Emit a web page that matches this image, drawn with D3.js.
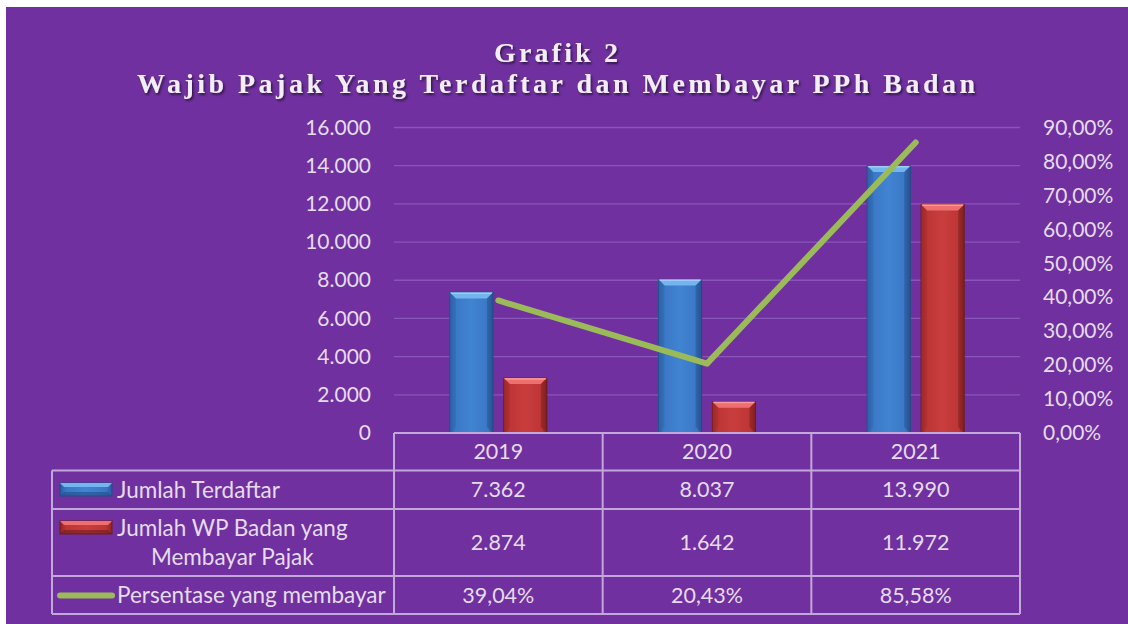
<!DOCTYPE html>
<html>
<head>
<meta charset="utf-8">
<script src="https://cdn.jsdelivr.net/npm/d3@7"></script>
<style>
  body { margin: 0; background: #fff; }
  svg { display: block; }
</style>
</head>
<body>
<svg id="chart"></svg>
<script>
// data
var categories = ["2019", "2020", "2021"];
var terdaftar = [7362, 8037, 13990];
var membayar = [2874, 1642, 11972];
var persentase = [39.04, 20.43, 85.58];
var leftTicks = [0, 2000, 4000, 6000, 8000, 10000, 12000, 14000, 16000];
var rightTicks = [0, 10, 20, 30, 40, 50, 60, 70, 80, 90];
var seriesNames = ["Jumlah Terdaftar", "Jumlah WP Badan yang|Membayar Pajak", "Persentase yang membayar"];
var titleLines = ["Grafik 2", "Wajib Pajak Yang Terdaftar dan Membayar PPh Badan"];

var W = 1128, H = 624;
var plot = { left: 394, right: 1020, top: 127.5, bottom: 433 };
var textColor = "#e4dced";
var gridColor = "#8756b6";
var borderColor = "#c2a7da";
var font = "Lato, 'Open Sans', sans-serif";

var locale = d3.formatLocale({ decimal: ",", thousands: ".", grouping: [3], currency: ["Rp", ""] });
var fmtNum = locale.format(",.0f");
var fmtPct = function (v) { return locale.format(".2f")(v) + "%"; };

var svg = d3.select("#chart").attr("width", W).attr("height", H);

var defs = svg.append("defs");
var shadow = defs.append("filter").attr("id", "shadow").attr("x", "-5%").attr("y", "-30%").attr("width", "110%").attr("height", "160%");
shadow.append("feDropShadow").attr("dx", 1.5).attr("dy", 2).attr("stdDeviation", 1.2)
  .attr("flood-color", "#000").attr("flood-opacity", 0.55);

// bar gradients
function barGradient(id, edge, mid, light) {
  var g = defs.append("linearGradient").attr("id", id).attr("x1", "0").attr("x2", "1").attr("y1", "0").attr("y2", "0");
  g.append("stop").attr("offset", "0%").attr("stop-color", edge);
  g.append("stop").attr("offset", "12%").attr("stop-color", mid);
  g.append("stop").attr("offset", "50%").attr("stop-color", light);
  g.append("stop").attr("offset", "88%").attr("stop-color", mid);
  g.append("stop").attr("offset", "100%").attr("stop-color", edge);
}
barGradient("gBlue", "#285b9c", "#3a78c6", "#4184d2");
barGradient("gRed", "#8e2525", "#bd3535", "#c93d3d");

var barStyles = [
  { fill: "url(#gBlue)", top: "#74b4ef", topEdge: "#9ccdf6", side: "#2f66ad", dark: "#234c86" },
  { fill: "url(#gRed)", top: "#ee6f6f", topEdge: "#f79a9a", side: "#a52c2c", dark: "#6e1a1a" }
];

// background
svg.append("rect").attr("x", 6).attr("y", 7).attr("width", W - 6).attr("height", H - 7).attr("fill", "#7030a0");

// title
svg.append("text").attr("x", 556).attr("y", 62).attr("text-anchor", "middle")
  .attr("font-family", "'Liberation Serif', 'Times New Roman', serif").attr("font-weight", "bold")
  .attr("font-size", 28).attr("fill", "#f2eef5").attr("filter", "url(#shadow)")
  .attr("textLength", 124).attr("lengthAdjust", "spacing")
  .text(titleLines[0]);
svg.append("text").attr("x", 556).attr("y", 93).attr("text-anchor", "middle")
  .attr("font-family", "'Liberation Serif', 'Times New Roman', serif").attr("font-weight", "bold")
  .attr("font-size", 28).attr("fill", "#f2eef5").attr("filter", "url(#shadow)")
  .attr("textLength", 838).attr("lengthAdjust", "spacing")
  .text(titleLines[1]);

// scales
var x = d3.scaleBand().domain(categories).range([plot.left, plot.right]).paddingInner(0).paddingOuter(0);
var xSub = d3.scaleBand().domain([0, 1]).range([-48.5, 48.5]).paddingInner(0.2);
var y = d3.scaleLinear().domain([0, 16000]).range([plot.bottom, plot.top]);
var y2 = d3.scaleLinear().domain([0, 90]).range([plot.bottom, plot.top]);

// gridlines
svg.append("g").selectAll("line").data(leftTicks.slice(1)).enter().append("line")
  .attr("x1", plot.left).attr("x2", plot.right)
  .attr("y1", function (d) { return y(d); }).attr("y2", function (d) { return y(d); })
  .attr("stroke", gridColor).attr("stroke-width", 1.3);

// left axis
var axL = svg.append("g").attr("transform", "translate(" + (plot.left - 23) + ",0)")
  .call(d3.axisLeft(y).tickValues(leftTicks).tickFormat(fmtNum).tickSize(0).tickPadding(0));
axL.select(".domain").remove();
axL.selectAll("text").attr("fill", textColor).attr("font-family", font).attr("font-size", 21);

// right axis
var axR = svg.append("g").attr("transform", "translate(" + (plot.right + 23) + ",0)")
  .call(d3.axisRight(y2).tickValues(rightTicks).tickFormat(fmtPct).tickSize(0).tickPadding(0));
axR.select(".domain").remove();
axR.selectAll("text").attr("fill", textColor).attr("font-family", font).attr("font-size", 21);

// bars
var barData = [];
categories.forEach(function (c, i) {
  barData.push({ cat: c, s: 0, v: terdaftar[i] });
  barData.push({ cat: c, s: 1, v: membayar[i] });
});

var bars = svg.append("g").selectAll("g").data(barData).enter().append("g");
bars.each(function (d) {
  var g = d3.select(this);
  var st = barStyles[d.s];
  var x0 = x(d.cat) + x.bandwidth() / 2 + xSub(d.s);
  var w = xSub.bandwidth();
  var y0 = y(d.v);
  var h = plot.bottom - y0;
  var b = 6;
  g.append("rect").attr("x", x0).attr("y", y0).attr("width", w).attr("height", h)
    .attr("fill", st.fill).attr("stroke", st.dark).attr("stroke-width", 1);
  // top bevel
  g.append("polygon")
    .attr("points", [[x0, y0], [x0 + w, y0], [x0 + w - b, y0 + b], [x0 + b, y0 + b]].join(" "))
    .attr("fill", st.top);
  g.append("line").attr("x1", x0 + 1).attr("x2", x0 + w - 1).attr("y1", y0 + 0.8).attr("y2", y0 + 0.8)
    .attr("stroke", st.topEdge).attr("stroke-width", 1.5);
  // side bevels
  g.append("polygon")
    .attr("points", [[x0, y0], [x0 + b, y0 + b], [x0 + b, plot.bottom - b], [x0, plot.bottom]].join(" "))
    .attr("fill", st.side).attr("opacity", 0.55);
  g.append("polygon")
    .attr("points", [[x0 + w, y0], [x0 + w - b, y0 + b], [x0 + w - b, plot.bottom - b], [x0 + w, plot.bottom]].join(" "))
    .attr("fill", st.dark).attr("opacity", 0.45);
});

// line
var line = d3.line()
  .x(function (d, i) { return x(categories[i]) + x.bandwidth() / 2; })
  .y(function (d) { return y2(d); });
svg.append("path").datum(persentase).attr("d", line)
  .attr("fill", "none").attr("stroke", "#9bbb59").attr("stroke-width", 6)
  .attr("stroke-linecap", "round").attr("stroke-linejoin", "round");

// data table
var tableLeft = 52;
var rows = [433, 470.5, 509, 576, 614];
var tbl = svg.append("g").attr("stroke", borderColor).attr("stroke-width", 2).attr("fill", "none");
tbl.append("line").attr("x1", plot.left).attr("x2", plot.right).attr("y1", rows[0]).attr("y2", rows[0]);
rows.slice(1).forEach(function (r) {
  tbl.append("line").attr("x1", tableLeft).attr("x2", plot.right).attr("y1", r).attr("y2", r);
});
tbl.append("line").attr("x1", tableLeft).attr("x2", tableLeft).attr("y1", rows[1]).attr("y2", rows[4]);
categories.forEach(function (c) {
  tbl.append("line").attr("x1", x(c)).attr("x2", x(c)).attr("y1", rows[0]).attr("y2", rows[4]);
});
tbl.append("line").attr("x1", plot.right).attr("x2", plot.right).attr("y1", rows[0]).attr("y2", rows[4]);

function cellText(txt, cx, cy, anchor, size) {
  return svg.append("text").attr("x", cx).attr("y", cy).attr("dy", "0.35em")
    .attr("text-anchor", anchor || "middle").attr("fill", textColor)
    .attr("font-family", font).attr("font-size", size || 21.5).text(txt);
}
var rowMid = function (i) { return (rows[i] + rows[i + 1]) / 2; };
categories.forEach(function (c, i) {
  var cx = x(c) + x.bandwidth() / 2;
  cellText(c, cx, rowMid(0));
  cellText(fmtNum(terdaftar[i]), cx, rowMid(1));
  cellText(fmtNum(membayar[i]), cx, rowMid(2));
  cellText(fmtPct(persentase[i]), cx, rowMid(3));
});

// legend keys
function legendBar(yTop, st) {
  var kx = 60, kw = 52, kh = 13, b = 4;
  var g = svg.append("g");
  g.append("rect").attr("x", kx).attr("y", yTop).attr("width", kw).attr("height", kh)
    .attr("fill", st.fill).attr("stroke", st.dark).attr("stroke-width", 1);
  g.append("polygon")
    .attr("points", [[kx, yTop], [kx + kw, yTop], [kx + kw - b, yTop + b], [kx + b, yTop + b]].join(" "))
    .attr("fill", st.top);
  g.append("polygon")
    .attr("points", [[kx, yTop + kh], [kx + kw, yTop + kh], [kx + kw - b, yTop + kh - b], [kx + b, yTop + kh - b]].join(" "))
    .attr("fill", st.dark).attr("opacity", 0.6);
}
legendBar(483, barStyles[0]);
legendBar(521, barStyles[1]);
svg.append("line").attr("x1", 60).attr("x2", 112).attr("y1", 595.5).attr("y2", 595.5)
  .attr("stroke", "#9bbb59").attr("stroke-width", 6).attr("stroke-linecap", "round");

var legSize = 22.5;
cellText(seriesNames[0], 117, rowMid(1), "start", legSize);
var redLines = seriesNames[1].split("|");
var first = cellText(redLines[0], 117, 528, "start", legSize);
var firstCenter = 117 + first.node().getComputedTextLength() / 2;
cellText(redLines[1], firstCenter, 557, "middle", legSize);
cellText(seriesNames[2], 117, rowMid(3), "start", legSize);
</script>
</body>
</html>
